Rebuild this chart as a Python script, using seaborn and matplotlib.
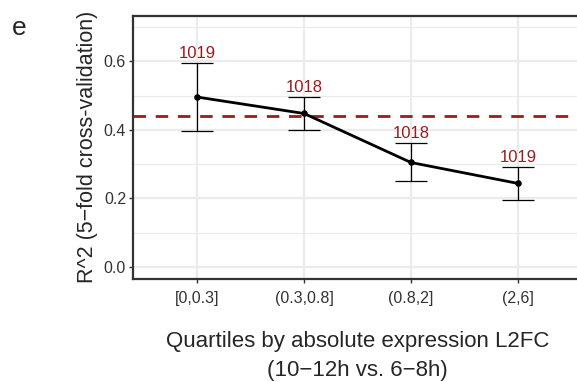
import matplotlib
matplotlib.use("Agg")
import matplotlib.pyplot as plt
import seaborn as sns
import pandas as pd
import numpy as np
from matplotlib.ticker import MultipleLocator

categories = ["[0,0.3]", "(0.3,0.8]", "(0.8,2]", "(2,6]"]
r2_mean = [0.496, 0.448, 0.305, 0.244]
r2_upper = [0.596, 0.497, 0.361, 0.292]
r2_lower = [0.397, 0.399, 0.251, 0.195]
n_genes = ["1019", "1018", "1018", "1019"]
baseline = 0.441

df = pd.DataFrame({"cat": categories, "r2": r2_mean})

sns.set_style("white")
plt.rcParams['font.family'] = ['Liberation Sans', 'DejaVu Sans']

fig = plt.figure(figsize=(5.77, 3.82), dpi=100)
ax = fig.add_axes([133/577, 1 - 279/382, (582 - 133)/577, (279 - 15.5)/382])
ax.set_facecolor("white")

darkred = "#9B1B1F"
ax.axhline(baseline, color=darkred, linestyle=(0, (4.5, 3.5)), linewidth=2.0, zorder=2)

x = np.arange(len(categories))
yerr = [np.array(r2_mean) - np.array(r2_lower), np.array(r2_upper) - np.array(r2_mean)]
ax.errorbar(x, r2_mean, yerr=yerr, fmt="none", ecolor="black", elinewidth=0.9,
            capsize=11.5, capthick=0.9, zorder=3)

sns.pointplot(data=df, x="cat", y="r2", color="black", errorbar=None,
              markers="o", markersize=3.2, linewidth=2.0, ax=ax, zorder=4)

for xi, top, lab in zip(x, r2_upper, n_genes):
    ax.text(xi, top + 0.006, lab, color=darkred, ha="center", va="bottom", fontsize=12)

ax.set_xlim(-0.6, 3.6)
ax.set_ylim(-0.035, 0.734)
ax.set_yticks([0.0, 0.2, 0.4, 0.6])
ax.set_yticklabels(["0.0", "0.2", "0.4", "0.6"])
ax.yaxis.set_minor_locator(MultipleLocator(0.1))
ax.set_xticks(x)
ax.set_xticklabels(categories)

ax.xaxis.grid(True, which="major", color="#EBEBEB", linewidth=1.6, zorder=0)
ax.yaxis.grid(True, which="major", color="#EBEBEB", linewidth=1.6, zorder=0)
ax.yaxis.grid(True, which="minor", color="#EBEBEB", linewidth=0.8, zorder=0)
ax.set_axisbelow(True)

for s in ax.spines.values():
    s.set_visible(True)
    s.set_color("#333333")
    s.set_linewidth(1.6)

ax.tick_params(axis="both", which="major", length=3, width=1.0, color="#333333",
               direction="out", bottom=True, left=True)
ax.tick_params(axis="y", which="major", labelsize=11.5, labelcolor="#333333", pad=2)
ax.tick_params(axis="x", which="major", labelsize=11.5, labelcolor="#333333", pad=6)
ax.tick_params(axis="both", which="minor", length=0)

ax.set_xlabel("Quartiles by absolute expression L2FC\n(10\u221212h vs. 6\u22128h)",
              fontsize=16, labelpad=18, linespacing=1.45)
ax.set_ylabel("R^2 (5\u2212fold cross-validation)", fontsize=15.5, labelpad=4)

fig.text(12/577, 1 - 28/382, "e", fontsize=19, ha="left", va="center")

fig.savefig("out.png", dpi=100)
